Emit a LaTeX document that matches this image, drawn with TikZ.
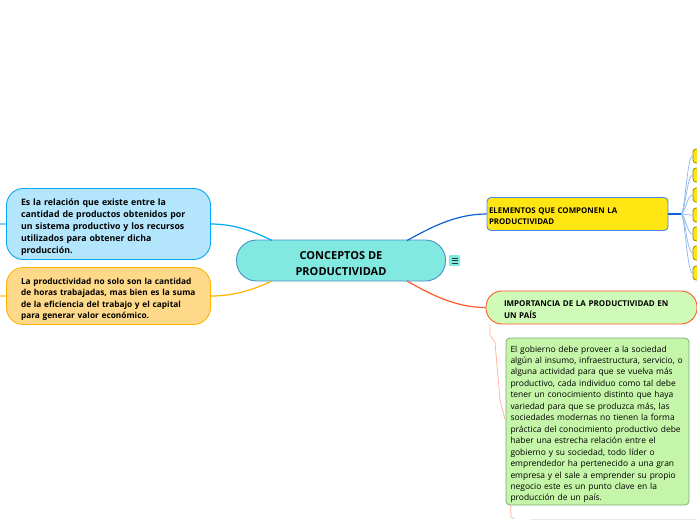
\documentclass[tikz,border=0pt]{standalone}
\usepackage{fontspec}
\setmainfont{Open Sans}
\usetikzlibrary{positioning}
\definecolor{centerFill}{HTML}{82E9E0}
\definecolor{centerLine}{HTML}{4A90C8}
\definecolor{blueFill}{HTML}{B3E5FC}
\definecolor{blueLine}{HTML}{03A9F4}
\definecolor{orangeFill}{HTML}{FFD98A}
\definecolor{orangeLine}{HTML}{FFB300}
\definecolor{yellowFill}{HTML}{FFE512}
\definecolor{linkBlue}{HTML}{0B62D9}
\definecolor{linkRed}{HTML}{FF5A2B}
\definecolor{limeFill}{HTML}{CFFBB8}
\definecolor{greenFill}{HTML}{C4F5A8}
\definecolor{greenLine}{HTML}{7FA878}
\definecolor{paleBlue}{HTML}{90BDF2}
\definecolor{paleRed}{HTML}{FFB7A0}
\def\oneLine#1{\mbox{#1}}
\def\topGap#1{\rule{0pt}{#1pt}}
\tikzset{
	topicbox/.style={draw,line width=0.9pt,rounded corners=17pt,inner sep=0pt,align=left,font=\fontsize{8.8}{12}\selectfont\bfseries},
	leafbox/.style={draw=yellowFill!60!black,fill=yellowFill,line width=0.8pt,rounded corners=3pt,minimum width=12pt,minimum height=14pt,inner sep=0pt},
	leaflink/.style={draw=paleBlue,line width=0.8pt},
	mainlink/.style={line width=1.2pt},
	stublink/.style={line width=1.2pt},
}
\begin{document}
\begin{tikzpicture}[x=1pt,y=-1pt]
	\useasboundingbox (0,0) rectangle (697,520);
	\coordinate (Fork) at (681,214);
	\coordinate (StubA) at (0,224);
	\coordinate (StubB) at (0,296);
	\coordinate (CenterNW) at (272,240.5);
	\coordinate (CenterSW) at (272,281);
	\coordinate (CenterNE) at (407,240.5);
	\coordinate (CenterSE) at (407,281);
	\coordinate (RedTop) at (490,324);
	\coordinate (RedEnd) at (514,519);
	\node[topicbox,draw=centerLine,fill=centerFill,minimum width=209pt,minimum height=41pt,rounded corners=20pt,align=center,font=\fontsize{11}{15.5}\selectfont\bfseries] (Center) at (341,260.5) {\topGap{14.5}CONCEPTOS DE\\PRODUCTIVIDAD};
	\node[fill=centerFill,minimum size=11pt,inner sep=0pt,rounded corners=1pt] (Menu) at (454.5,260.5) {};
	\foreach \d in {-2.5,0,2.5}{
		\draw[color=black!75!centerFill,line width=0.8pt] ([xshift=-3pt,yshift=\d pt]Menu.center) -- ([xshift=3pt,yshift=\d pt]Menu.center);
	}
	\node[topicbox,draw=blueLine,fill=blueFill,minimum width=204pt,minimum height=71pt,text width=175pt] (Relacion) at (108.5,224) {\topGap{12.5}Es la relación que existe entre la\\\oneLine{cantidad de productos obtenidos por}\\\oneLine{un sistema productivo y los recursos}\\utilizados para obtener dicha\\producción.};
	\node[topicbox,draw=orangeLine,fill=orangeFill,minimum width=204pt,minimum height=57pt,text width=175pt,font=\fontsize{8.3}{11.4}\selectfont\bfseries] (Suma) at (108.5,296) {\topGap{13}La productividad no solo son la cantidad\\de horas trabajadas, mas bien es la suma\\de la eficiencia del trabajo y el capital\\para generar valor económico.};
	\node[topicbox,draw=linkBlue!75,fill=yellowFill,minimum width=181pt,minimum height=33pt,rounded corners=4pt,text width=177pt,font=\fontsize{7.9}{11}\selectfont\bfseries] (Elementos) at (577.5,214) {\topGap{9.5}ELEMENTOS QUE COMPONEN LA\\PRODUCTIVIDAD};
	\node[topicbox,draw=linkRed,fill=limeFill,minimum width=211pt,minimum height=33pt,rounded corners=16pt,text width=175pt,font=\fontsize{8}{11.6}\selectfont\bfseries] (Importancia) at (591.5,307.5) {\topGap{9.5}\oneLine{IMPORTANCIA DE LA PRODUCTIVIDAD EN}\\UN PAÍS};
	\node[draw=greenLine,fill=greenFill,line width=0.8pt,rounded corners=4pt,minimum width=183pt,minimum height=167pt,inner sep=0pt,text width=174pt,align=left,font=\fontsize{8.45}{11.45}\selectfont] (Gobierno) at (597.5,421.5) {\topGap{12}El gobierno debe proveer  a la sociedad\\\oneLine{algún al insumo, infraestructura, servicio, o}\\alguna actividad  para que se vuelva más\\productivo, cada individuo como tal debe\\tener un conocimiento distinto que haya\\variedad para que se produzca más, las\\sociedades modernas no tienen la forma\\\oneLine{práctica del conocimiento productivo debe}\\haber una estrecha relación entre el\\gobierno y su sociedad, todo líder o\\emprendedor ha pertenecido a una gran\\empresa y el sale a emprender su propio\\negocio este es un punto clave en la\\producción de un país.};
	\node[draw=black!8,fill=white,minimum width=170pt,minimum height=10pt,inner sep=0pt,anchor=north west] (Recorte) at (530,519) {};
	\foreach \i/\y in {1/156,2/175,3/195,4/215,5/234,6/253,7/273}{
		\node[leafbox] (Leaf\i) at (699,\y) {};
		\draw[leaflink] (Fork) .. controls (685,214) and (687,\y) .. (Leaf\i.west);
	}
	\draw[blueLine,mainlink] (Relacion.east) .. controls (235,224) and (255,232) .. (CenterNW);
	\draw[orangeLine,mainlink] (Suma.east) .. controls (235,296) and (255,289) .. (CenterSW);
	\draw[linkBlue,mainlink] (CenterNE) .. controls (430,228) and (455,214) .. (Elementos.west);
	\draw[linkRed,mainlink] (CenterSE) .. controls (430,294) and (455,307.5) .. (Importancia.west);
	\draw[linkBlue,mainlink] (Elementos.east) -- (Fork);
	\draw[blueLine!50,stublink] (StubA) -- (Relacion.west);
	\draw[orangeLine!50,stublink] (StubB) -- (Suma.west);
	\draw[paleRed,line width=0.8pt] (RedTop) -- (490,335) -- (495,342) -- (500,400) -- (Gobierno.west);
	\draw[paleRed,line width=0.8pt] (Gobierno.south west) ++(5,0) -- (511,517) -- (RedEnd);
\end{tikzpicture}
\end{document}
